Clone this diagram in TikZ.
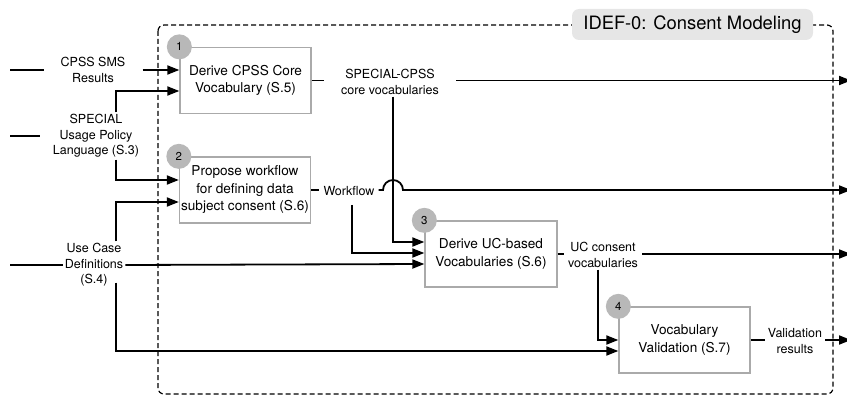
\documentclass[tikz,border=0pt]{standalone}
\usepackage{fontspec}
\setmainfont{TeX Gyre Heros}
\usetikzlibrary{arrows.meta,calc}
\definecolor{boxedge}{HTML}{AAAAAA}
\definecolor{badgefill}{HTML}{B8B8B8}
\definecolor{titlefill}{HTML}{E6E6E6}
\begin{document}
\begin{tikzpicture}[x=1pt,y=-1pt,
  activity/.style={draw=boxedge, line width=1.3pt, minimum width=131pt, minimum height=66pt,
    align=center, inner sep=0pt, font=\fontsize{13.6}{17.5}\selectfont},
  badge/.style={circle, fill=badgefill, minimum size=25pt, inner sep=0pt,
    font=\fontsize{11.5}{12}\selectfont},
  flowlabel/.style={align=center, inner xsep=3pt, inner ysep=2pt,
    font=\fontsize{12.5}{15.5}\selectfont},
  flow/.style={line width=1.8pt},
  arr/.style={flow, -{Triangle[length=12pt,width=9pt]}},
]
\useasboundingbox (0,0) rectangle (847,396);

% boundary of the IDEF-0 context
\draw[dash pattern=on 5pt off 3pt, line width=1.2pt, rounded corners=6pt] (158,25) rectangle (833,394);
\node[fill=titlefill, rounded corners=7pt, minimum width=241pt, minimum height=31pt,
  font=\fontsize{18.4}{20}\selectfont] (title) at (692.5,24.5) {IDEF-0: Consent Modeling};

% activities
\node[activity] (b1) at (245.5,80.5) {Derive CPSS Core\\Vocabulary (S.5)};
\node[activity] (b2) at (245,190) {Propose workflow\\for defining data\\subject consent (S.6)};
\node[activity, minimum width=132pt] (b3) at (491,254) {Derive UC-based\\Vocabularies (S.6)};
\node[activity] (b4) at (684.5,340) {Vocabulary\\Validation (S.7)};

\node[badge] (c1) at (b1.north west) {1};
\node[badge] (c2) at (b2.north west) {2};
\node[badge] (c3) at (b3.north west) {3};
\node[badge] (c4) at (b4.north west) {4};

% inputs and outputs
\node[flowlabel, inner xsep=17pt] (csms) at (93,70) {CPSS SMS\\Results};
\node[flowlabel, inner xsep=13pt] (spec) at (96,136) {SPECIAL\\Usage Policy\\Language (S.3)};
\node[flowlabel, inner xsep=2pt] (ucd) at (94,265) {Use Case\\Definitions\\(S.4)};
\node[flowlabel, inner xsep=17pt] (core) at (390,82) {SPECIAL-CPSS\\core vocabularies};
\node[flowlabel, inner xsep=4pt] (wf) at (349,191) {Workflow};
\node[flowlabel, inner xsep=4pt] (uc) at (603,255) {UC consent\\vocabularies};
\node[flowlabel, inner xsep=3pt] (val) at (795,341) {Validation\\results};

\coordinate (lft) at (10,0);
\coordinate (rgt) at (851,0);
\coordinate (jx) at ([xshift=3pt]core.south);

% external inputs
\draw[flow] (lft |- csms.west) -- (csms.west);
\draw[arr] (csms.east) -- (csms.east -| b1.west);
\draw[flow] (lft |- spec.west) -- (spec.west);
\draw[arr] ([xshift=20pt]spec.north) |- ([yshift=-10.5pt]b1.west);
\draw[arr] ([xshift=20pt]spec.south) |- ([yshift=10pt]b2.west);
\draw[flow] (lft |- ucd.west) -- (ucd.west);
\draw[arr] ([xshift=22pt]ucd.north) |- ([yshift=-12pt]b2.west);
\draw[arr] (ucd.east) -- ([yshift=-10pt]b3.west);
\draw[arr] ([xshift=22pt,yshift=6pt]ucd.south) |- ([yshift=-11pt]b4.west);

% activity 1 output
\draw[flow] (b1.east) -- (b1.east -| core.west);
\draw[arr] (b1.east -| core.east) -- (b1.east -| rgt);
\draw[arr] (jx) |- ([yshift=12pt]b3.west);

% activity 2 output, hopping over the core vocabularies line
\draw[flow] (b2.east) -- (b2.east -| wf.west);
\draw[arr] (b2.east -| wf.east) -- ($(b2.east -| jx)+(-10,0)$)
  arc[start angle=180, end angle=0, radius=10pt] -- (b2.east -| rgt);
\draw[arr] ([xshift=3pt,yshift=-7pt]wf.south) |- ([yshift=1pt]b3.west);

% activity 3 output
\draw[flow] (b3.east) -- (b3.east -| uc.west);
\draw[arr] (b3.east -| uc.east) -- (b3.east -| rgt);
\draw[arr] ([xshift=-5pt]uc.south) |- (b4.west);

% activity 4 output
\draw[flow] (b4.east) -- (b4.east -| val.west);
\draw[arr] (b4.east -| val.east) -- (b4.east -| rgt);
\end{tikzpicture}
\end{document}
